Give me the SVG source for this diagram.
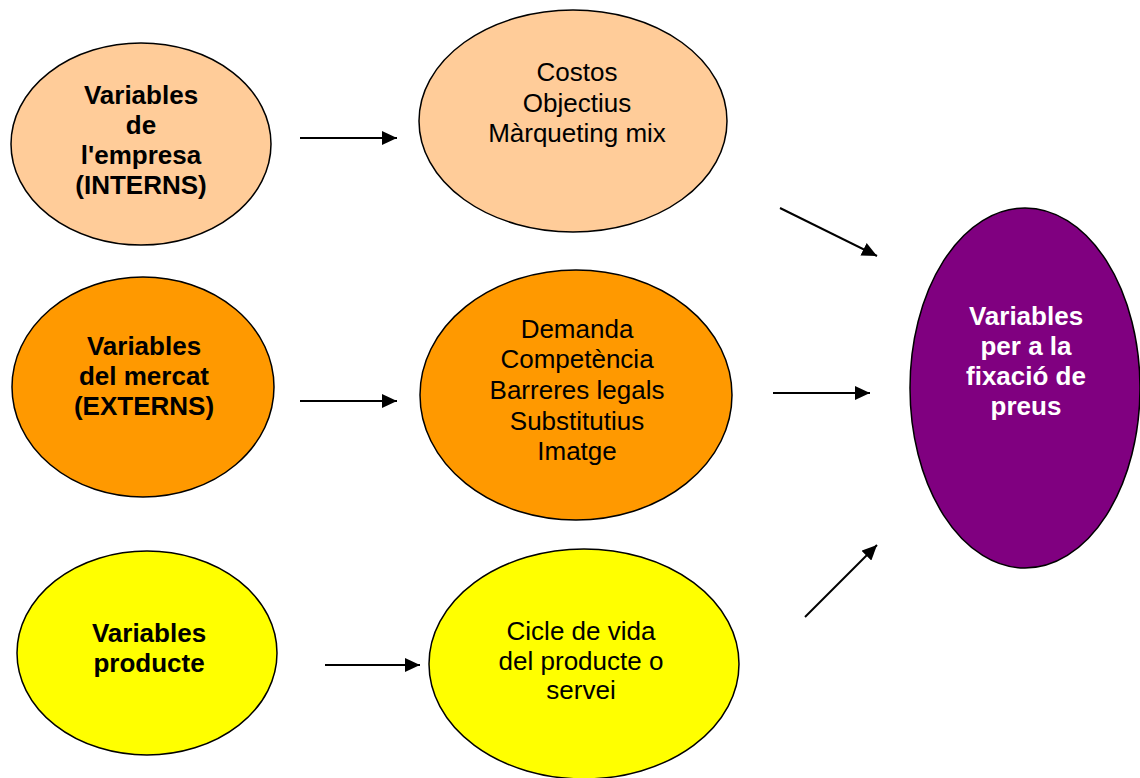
<svg xmlns="http://www.w3.org/2000/svg" width="1140" height="778" viewBox="0 0 1140 778">
  <style>
    .node { stroke: #000; stroke-width: 1.5; }
    .peach { fill: #FFCC99; }
    .orange { fill: #FF9900; }
    .yellow { fill: #FFFF00; }
    .purple { fill: #800080; }
    text { font-family: "Liberation Sans", Arial, sans-serif; font-size: 26px; text-anchor: middle; fill: #000; }
    .b { font-weight: bold; }
    .w { fill: #FFF; }
    .conn { stroke: #000; stroke-width: 2; fill: none; marker-end: url(#head); }
  </style>
  <defs>
    <marker id="head" markerUnits="userSpaceOnUse" markerWidth="16" markerHeight="14" refX="15" refY="7" orient="auto">
      <path d="M0,0 L15,7 L0,14 Z" fill="#000"/>
    </marker>
  </defs>

  <!-- internal company variables -->
  <g id="interns">
    <ellipse class="node peach" cx="141" cy="144" rx="130" ry="101"/>
    <text class="b" x="141" y="104">Variables</text>
    <text class="b" x="141" y="134">de</text>
    <text class="b" x="141" y="164">l'empresa</text>
    <text class="b" x="141" y="194">(INTERNS)</text>
  </g>

  <g id="interns-detail">
    <ellipse class="node peach" cx="573" cy="121" rx="154" ry="111"/>
    <text x="577" y="81">Costos</text>
    <text x="577" y="112">Objectius</text>
    <text x="577" y="142">Màrqueting mix</text>
  </g>

  <!-- external market variables -->
  <g id="externs">
    <ellipse class="node orange" cx="143" cy="387" rx="131" ry="110"/>
    <text class="b" x="144" y="355">Variables</text>
    <text class="b" x="144" y="385">del mercat</text>
    <text class="b" x="144" y="415">(EXTERNS)</text>
  </g>

  <g id="externs-detail">
    <ellipse class="node orange" cx="576" cy="395" rx="156" ry="125"/>
    <text x="577" y="338">Demanda</text>
    <text x="577" y="368">Competència</text>
    <text x="577" y="399">Barreres legals</text>
    <text x="577" y="430">Substitutius</text>
    <text x="577" y="460">Imatge</text>
  </g>

  <!-- product variables -->
  <g id="producte">
    <ellipse class="node yellow" cx="147" cy="653" rx="130" ry="102"/>
    <text class="b" x="149" y="642">Variables</text>
    <text class="b" x="149" y="672">producte</text>
  </g>

  <g id="producte-detail">
    <ellipse class="node yellow" cx="584" cy="664" rx="155" ry="115"/>
    <text x="581" y="640">Cicle de vida</text>
    <text x="581" y="670">del producte o</text>
    <text x="581" y="699">servei</text>
  </g>

  <!-- price-setting result -->
  <g id="preus">
    <ellipse class="node purple" cx="1025" cy="388" rx="115" ry="180"/>
    <text class="b w" x="1026" y="325">Variables</text>
    <text class="b w" x="1026" y="355">per a la</text>
    <text class="b w" x="1026" y="385">fixació de</text>
    <text class="b w" x="1026" y="415">preus</text>
  </g>

  <g id="connectors">
    <line class="conn" x1="300" y1="138" x2="397" y2="138"/>
    <line class="conn" x1="300" y1="401" x2="397" y2="401"/>
    <line class="conn" x1="325" y1="665" x2="420" y2="665"/>
    <line class="conn" x1="780" y1="208" x2="877" y2="256"/>
    <line class="conn" x1="773" y1="393" x2="870" y2="393"/>
    <line class="conn" x1="805" y1="617" x2="877" y2="545"/>
  </g>
</svg>
